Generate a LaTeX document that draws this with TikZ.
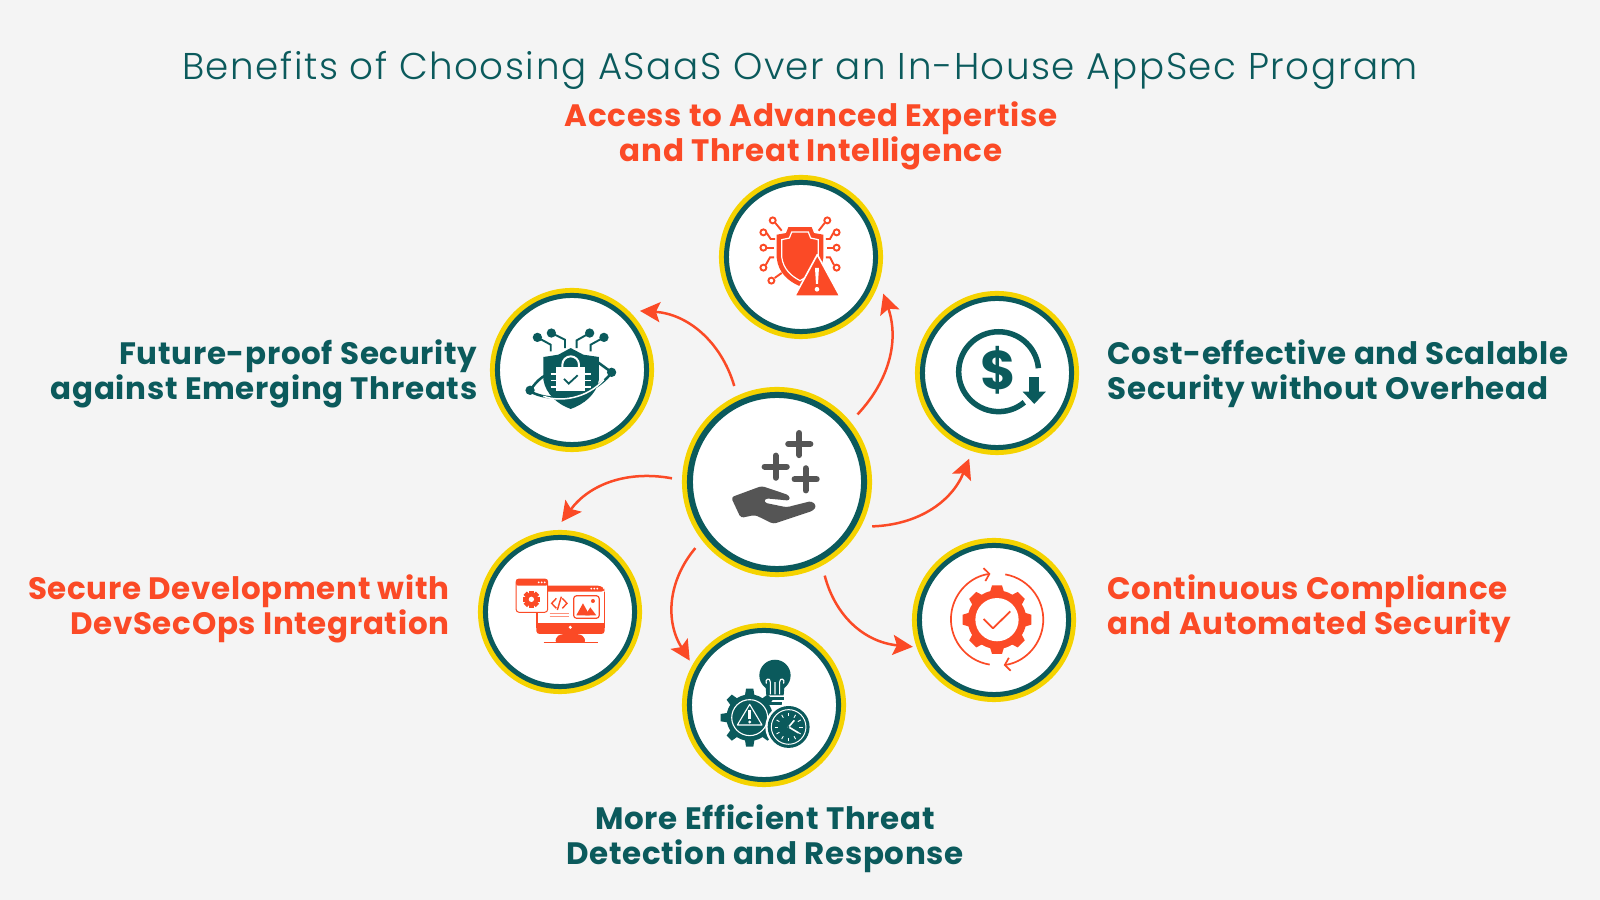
\documentclass[tikz,border=0pt]{standalone}
\usepackage{fontspec}
\setmainfont{Poppins}
\newfontfamily\titlefont[LetterSpace=4.1]{Poppins Light}
\newfontfamily\labfont[LetterSpace=2.2]{Poppins}
\usetikzlibrary{arrows.meta}
\begin{document}
\begin{tikzpicture}[
        x=0.01cm, y=0.01cm,
        ringnode/.style={circle, fill=white, draw=tealc, line width=0.05cm, outer sep=0.155cm,
          minimum size=1.49cm, inner sep=0pt, preaction={draw=ringy, line width=0.15cm}},
        hubnode/.style={circle, fill=white, draw=tealc, line width=0.06cm, outer sep=0.18cm,
          minimum size=1.74cm, inner sep=0pt, preaction={draw=ringy, line width=0.16cm}},
        flow/.style={draw=redc, line width=0.025cm, -{Stealth[length=0.2cm, width=0.2cm, inset=0.04cm]}},
        lab/.style={font=\fontsize{8.8}{9.9}\selectfont\labfont\bfseries, inner sep=0pt},
        redlab/.style={lab, text=redc},
        teallab/.style={lab, text=tealc},
        zoomed/.style n args={3}{shift={(#1)}, x=0.00333cm, y=-0.00333cm, shift={(-#2,-#3)}},
        wire/.style={line width=0.019cm},
      ]
      \definecolor{tealc}{HTML}{0B5A5C}
      \definecolor{redc}{HTML}{FB4A26}
      \definecolor{ringy}{HTML}{F5D300}
      \definecolor{greyc}{HTML}{555555}
      \definecolor{pagec}{HTML}{F4F4F4}
      \fill[pagec] (0,0) rectangle (1600,900);
      \useasboundingbox (0,0) rectangle (1600,900);
      \node[text=tealc, font=\fontsize{10.6}{12}\selectfont\titlefont] (title) at (800,830) {Benefits of Choosing ASaaS Over an In-House AppSec Program};
      \node[hubnode] (hub) at (777,418) {};
      \node[ringnode] (top) at (801,643) {};
      \node[ringnode] (future) at (572,530) {};
      \node[ringnode] (cost) at (997,527) {};
      \node[ringnode] (comply) at (994,280) {};
      \node[ringnode] (devsec) at (560,288) {};
      \node[ringnode] (detect) at (764,195) {};
      \node[redlab, align=center] (toplab) at (811,764) {Access to Advanced Expertise\\and Threat Intelligence};
      \node[teallab, align=right, anchor=east] (futurelab) at (478,526) {Future-proof Security\\against Emerging Threats};
      \node[teallab, align=left, anchor=west] (costlab) at (1107,526) {Cost-effective and Scalable\\Security without Overhead};
      \node[redlab, align=right, anchor=east] (devseclab) at (450,291) {Secure Development with\\DevSecOps Integration};
      \node[redlab, align=left, anchor=west] (complylab) at (1107,291) {Continuous Compliance\\and Automated Security};
      \node[teallab, align=center] (detectlab) at (765,61) {More Efficient Threat\\Detection and Response};
      \draw[flow] (hub.40) to[bend right=31] (top.-24);
      \draw[flow] (hub.114) to[bend right=35] (future.41);
      \draw[flow] (hub.178) to[bend right=32] (devsec.89);
      \draw[flow, shorten >=-0.04cm] (hub.219) to[bend right=36] (detect.148);
      \draw[flow, shorten >=-0.05cm] (hub.-63) to[bend right=35] (comply.197);
      \draw[flow] (hub.-25) to[bend right=33] (cost.252);
      \begin{scope}[zoomed={top}{303}{262}]
        \fill[redc] (230,195) -- (258,190) -- (265,172) -- (335,172) -- (342,190) -- (370,195) -- (370,265) .. controls (365,310) and (335,335) .. (300,350) .. controls (265,335) and (235,310) .. (230,265) -- cycle;
        \draw[white, line width=0.012cm] (245,210) -- (268,205) -- (275,187) -- (325,187) -- (332,205) -- (355,210) -- (355,262) .. controls (350,300) and (325,320) .. (300,333) .. controls (275,320) and (250,300) .. (245,262) -- cycle;
        \fill[redc, draw=white, line width=0.016cm, line join=round] (352,255) -- (420,380) -- (284,380) -- cycle;
        \fill[white] (345,295) -- (357,295) -- (354,343) -- (348,343) -- cycle;
        \fill[white] (351,359) circle[radius=7];
        \foreach \a/\b in {218/152,382/152,190/188,410/188,190/234,410/234,190/294,410/294,214/333} {\draw[redc, wire] (\a,\b) circle[radius=9];}
        \draw[redc, wire] (226,160) -- (245,183);
        \draw[redc, wire] (374,160) -- (356,183);
        \draw[redc, wire] (200,190) -- (212,208) -- (225,208);
        \draw[redc, wire] (400,190) -- (390,208) -- (378,208);
        \draw[redc, wire] (200,234) -- (222,234);
        \draw[redc, wire] (400,234) -- (380,234);
        \draw[redc, wire] (197,286) -- (210,263) -- (222,263);
        \draw[redc, wire] (402,286) -- (390,263) -- (378,263);
        \draw[redc, wire] (224,325) -- (245,310);
      \end{scope}
      \begin{scope}[zoomed={future}{276}{271}]
        \draw[tealc, line width=0.025cm] (150,332) .. controls (170,305) and (180,295) .. (200,285);
        \draw[tealc, line width=0.025cm] (150,335) .. controls (200,365) and (320,370) .. (395,280);
        \draw[tealc, line width=0.025cm] (350,245) -- (395,278);
        \fill[tealc] (190,232) -- (235,225) -- (272,205) -- (310,225) -- (357,232) -- (357,300) .. controls (350,345) and (310,375) .. (272,388) .. controls (235,375) and (197,345) .. (190,300) -- cycle;
        \draw[white, line width=0.015cm] (190,350) .. controls (240,368) and (320,358) .. (372,300);
        \draw[white, line width=0.02cm] (247,265) -- (247,255) arc[start angle=180, end angle=360, radius=25] -- (297,265);
        \fill[white] (228,262) rectangle (315,335);
        \foreach \y in {283,302,322} {\draw[white, line width=0.015cm] (212,\y) -- (332,\y);}
        \draw[tealc, line width=0.018cm] (252,298) -- (266,312) -- (293,287);
        \foreach \a/\b in {172/173,214/160,329/160,372/173,150/332,395/278} {\fill[tealc] (\a,\b) circle[radius=14];}
        \draw[tealc, wire] (172,173) -- (212,195) -- (212,215);
        \draw[tealc, wire] (214,160) -- (255,180) -- (255,205);
        \draw[tealc, wire] (329,160) -- (290,182) -- (290,205);
        \draw[tealc, wire] (372,173) -- (332,195) -- (332,215);
      \end{scope}
      \begin{scope}[zoomed={hub}{321}{306}]
        \foreach \a/\b in {388/192,317/260,407/298} {\draw[greyc, line width=0.062cm, line cap=round] (\a-33,\b) -- (\a+33,\b) (\a,\b-33) -- (\a,\b+33);}
        \fill[greyc, rounded corners=0.03cm] (183,352) -- (275,318) -- (358,346) -- (360,362) -- (285,355) -- (282,368) -- (350,382) -- (425,363) -- (440,378) -- (430,392) -- (310,432) -- (255,405) -- (212,414) -- cycle;
      \end{scope}
      \begin{scope}[zoomed={cost}{290}{279}]
        \draw[tealc, line width=0.055cm] (372,367) arc[start angle=50, end angle=355, radius=120];
        \fill[tealc] (385,292) rectangle (417,335);
        \fill[tealc] (367,335) -- (437,335) -- (402,372) -- cycle;
        \node[text=tealc, font=\fontsize{15.5}{16}\selectfont\bfseries, inner sep=0pt] (dollar) at (295,272) {\$};
      \end{scope}
      \begin{scope}[zoomed={comply}{281}{271}]
        \foreach \a in {0,45,...,315} {\fill[redc, rotate around={\a:(290,270)}] (268,190) -- (275,167) -- (305,167) -- (312,190) -- cycle;}
        \fill[redc] (290,270) circle[radius=88];
        \fill[white] (290,270) circle[radius=65];
        \draw[redc, line width=0.018cm, line join=round] (250,268) -- (278,296) -- (330,245);
        \draw[redc, line width=0.017cm, -{Straight Barb[length=0.05cm, width=0.13cm]}] (268,405) arc[start angle=99, end angle=262, radius=138];
        \draw[redc, line width=0.017cm, -{Straight Barb[length=0.05cm, width=0.13cm]}] (315,134) arc[start angle=-80, end angle=82, radius=138];
      \end{scope}
      \begin{scope}[zoomed={devsec}{269}{276}]
        \fill[redc, rounded corners=0.03cm] (198,197) -- (392,197) -- (402,207) -- (402,215) -- (198,215) -- cycle;
        \draw[redc, line width=0.012cm] (200,215) -- (200,312);
        \draw[redc, line width=0.012cm] (402,215) -- (402,312);
        \fill[redc, rounded corners=0.03cm] (198,310) -- (403,310) -- (403,342) -- (198,342) -- cycle;
        \fill[redc] (198,310) rectangle (403,325);
        \fill[redc, rounded corners=0.02cm] (255,368) -- (258,350) -- (275,342) -- (325,342) -- (342,350) -- (345,368) -- cycle;
        \draw[redc, line width=0.015cm] (220,367) -- (382,367);
        \fill[white] (300,322) circle[radius=5];
        \foreach \a in {363,372,381} {\fill[white] (\a,206) circle[radius=3];}
        \fill[white, rounded corners=0.03cm] (137,177) rectangle (232,277);
        \draw[redc, line width=0.01cm, rounded corners=0.03cm] (137,177) rectangle (232,277);
        \fill[redc, rounded corners=0.02cm] (137,197) -- (137,177) -- (232,177) -- (232,197) -- cycle;
        \foreach \a in {205,214,223} {\fill[white] (\a,187) circle[radius=3];}
        \foreach \a in {0,45,...,315} {\fill[redc, rotate around={\a:(183,238)}] (176,212) rectangle (190,225);}
        \fill[redc] (183,238) circle[radius=19];
        \fill[white] (183,238) circle[radius=8];
        \draw[redc, line width=0.014cm] (258,235) -- (244,250) -- (258,265);
        \draw[redc, line width=0.014cm] (276,235) -- (290,250) -- (276,265);
        \draw[redc, line width=0.014cm] (273,230) -- (261,270);
        \draw[redc!60, line width=0.009cm] (238,280) -- (297,280) (238,288) -- (297,288);
        \draw[redc, line width=0.012cm, rounded corners=0.03cm] (310,227) rectangle (387,295);
        \fill[redc] (318,286) -- (338,250) -- (358,286) -- cycle;
        \fill[redc] (345,286) -- (360,262) -- (378,286) -- cycle;
        \fill[redc] (368,243) circle[radius=6];
      \end{scope}
      \begin{scope}[zoomed={detect}{281}{254}]
        \fill[tealc] (314,165) circle[radius=47];
        \fill[tealc] (285,190) -- (343,190) -- (340,225) -- (288,225) -- cycle;
        \draw[white, line width=0.011cm] (314,222) -- (314,185) (300,222) -- (300,185) .. controls (300,170) and (282,175) .. (288,190) (328,222) -- (328,185) .. controls (328,170) and (346,175) .. (340,190);
        \fill[tealc] (290,230) rectangle (340,240);
        \fill[tealc] (295,244) rectangle (335,254);
        \foreach \a in {0,45,...,315} {\fill[tealc, rotate around={\a:(238,292)}] (227,205) -- (249,205) -- (253,230) -- (223,230) -- cycle;}
        \fill[tealc] (238,292) circle[radius=70];
        \draw[white, line width=0.011cm] (238,292) circle[radius=54];
        \draw[white, line width=0.011cm, line join=round] (238,252) -- (275,314) -- (201,314) -- cycle;
        \fill[white] (234,270) rectangle (242,297);
        \fill[white] (238,305) circle[radius=5];
        \fill[white] (355,320) circle[radius=70];
        \fill[tealc] (355,320) circle[radius=63];
        \draw[white, line width=0.01cm] (355,320) circle[radius=52];
        \foreach \a in {0,30,...,330} {\draw[white, line width=0.009cm, rotate around={\a:(355,320)}] (355,278) -- (355,288);}
        \draw[white, line width=0.016cm] (385,338) -- (355,320) -- (372,300);
        \fill[tealc] (355,320) circle[radius=3];
      \end{scope}
    \end{tikzpicture}
\end{document}
